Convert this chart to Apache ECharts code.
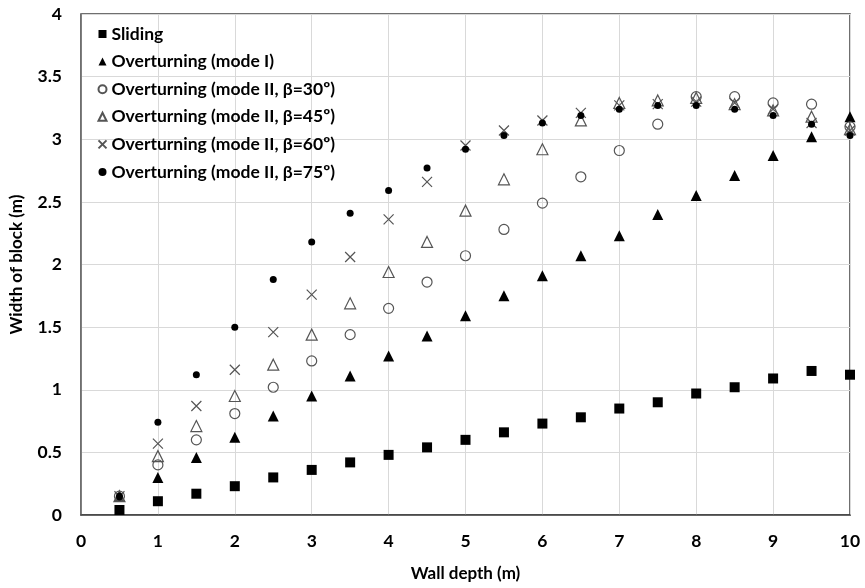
<!DOCTYPE html>
<html lang="en">
<head>
    <meta charset="UTF-8">
    <title>Width of block vs wall depth</title>
    <script src="https://cdn.jsdelivr.net/npm/echarts@6/dist/echarts.min.js"></script>
    <style>
        html, body { margin: 0; padding: 0; background: #fff; }
        #container { width: 865px; height: 588px; }
    </style>
</head>
<body>
    <div id="container"></div>
    <script>
        // wall depth (m)
        var wallDepth = [0.5, 1, 1.5, 2, 2.5, 3, 3.5, 4, 4.5, 5, 5.5, 6, 6.5, 7, 7.5, 8, 8.5, 9, 9.5, 10];
        // width of block (m) for each failure mode
        var sliding = [0.04, 0.11, 0.17, 0.23, 0.30, 0.36, 0.42, 0.48, 0.54, 0.60, 0.66, 0.73, 0.78, 0.85, 0.90, 0.97, 1.02, 1.09, 1.15, 1.12];
        var modeI = [0.15, 0.30, 0.46, 0.62, 0.79, 0.95, 1.11, 1.27, 1.43, 1.59, 1.75, 1.91, 2.07, 2.23, 2.40, 2.55, 2.71, 2.87, 3.02, 3.18];
        var beta30 = [0.15, 0.40, 0.60, 0.81, 1.02, 1.23, 1.44, 1.65, 1.86, 2.07, 2.28, 2.49, 2.70, 2.91, 3.12, 3.34, 3.34, 3.29, 3.28, 3.10];
        var beta45 = [0.15, 0.47, 0.71, 0.95, 1.20, 1.44, 1.69, 1.94, 2.18, 2.43, 2.68, 2.92, 3.15, 3.29, 3.31, 3.33, 3.28, 3.23, 3.18, 3.08];
        var beta60 = [0.15, 0.57, 0.87, 1.16, 1.46, 1.76, 2.06, 2.36, 2.66, 2.95, 3.07, 3.15, 3.21, 3.27, 3.28, 3.30, 3.29, 3.24, 3.13, 3.07];
        var beta75 = [0.15, 0.74, 1.12, 1.50, 1.88, 2.18, 2.41, 2.59, 2.77, 2.92, 3.03, 3.13, 3.19, 3.24, 3.27, 3.27, 3.24, 3.19, 3.12, 3.03];

        var names = ['Sliding', 'Overturning (mode I)', 'Overturning (mode II, β=30º)',
            'Overturning (mode II, β=45º)', 'Overturning (mode II, β=60º)', 'Overturning (mode II, β=75º)'];

        var font = 'Lato, "Open Sans", sans-serif';

        function pairs(ys) {
            return wallDepth.map(function (x, i) { return [x, ys[i]]; });
        }

        //一个散点系列
        function scatter(name, ys, symbol, size, style) {
            style.opacity = 1;
            return {
                name: name,
                type: 'scatter',
                data: pairs(ys),
                symbol: symbol,
                symbolSize: size,
                itemStyle: style,
                emphasis: { disabled: true }
            };
        }

        var crossPath = 'path://M0,0L10,10M10,0L0,10';

        var myChart = echarts.init(document.getElementById('container'));
        myChart.setOption({
            animation: false,
            backgroundColor: '#fff',
            textStyle: { fontFamily: font },
            grid: {
                left: 81, right: 15, top: 14, bottom: 73,
                show: true, borderColor: '#404040', borderWidth: 1.5
            },
            legend: {
                orient: 'vertical',
                left: 91, top: 19,
                itemWidth: 8, itemHeight: 8,
                itemGap: 7.6,
                selectedMode: false,
                textStyle: { fontFamily: font, fontWeight: 'bold', fontSize: 17.5, color: '#000', lineHeight: 20 },
                data: names
            },
            xAxis: {
                type: 'value',
                min: 0, max: 10, interval: 1,
                name: 'Wall depth (m)',
                nameLocation: 'middle',
                nameGap: 50,
                nameTextStyle: { fontFamily: font, fontWeight: 'bold', fontSize: 17, color: '#000' },
                axisLine: { lineStyle: { color: '#404040', width: 1.5 } },
                axisTick: { show: false },
                axisLabel: { fontFamily: font, fontWeight: 'bold', fontSize: 17.5, color: '#000', margin: 17 },
                splitLine: { lineStyle: { color: '#d9d9d9' } }
            },
            yAxis: {
                type: 'value',
                min: 0, max: 4, interval: 0.5,
                name: 'Width of block (m)',
                nameLocation: 'middle',
                nameGap: 56,
                nameTextStyle: { fontFamily: font, fontWeight: 'bold', fontSize: 17, color: '#000' },
                axisLine: { show: true, lineStyle: { color: '#808080' } },
                axisTick: { show: false },
                axisLabel: { fontFamily: font, fontWeight: 'bold', fontSize: 17.5, color: '#000', margin: 19 },
                splitLine: { lineStyle: { color: '#d9d9d9' } }
            },
            series: [
                scatter(names[0], sliding, 'rect', 10, { color: '#000' }),
                scatter(names[1], modeI, 'triangle', 11, { color: '#000' }),
                scatter(names[2], beta30, 'circle', 10, { color: 'none', borderColor: '#555', borderWidth: 1.2 }),
                scatter(names[3], beta45, 'triangle', 11, { color: 'none', borderColor: '#555', borderWidth: 1.2 }),
                scatter(names[4], beta60, crossPath, 10, { color: 'none', borderColor: '#555', borderWidth: 1.2 }),
                scatter(names[5], beta75, 'circle', 7, { color: '#000' })
            ]
        });
    </script>
</body>
</html>
